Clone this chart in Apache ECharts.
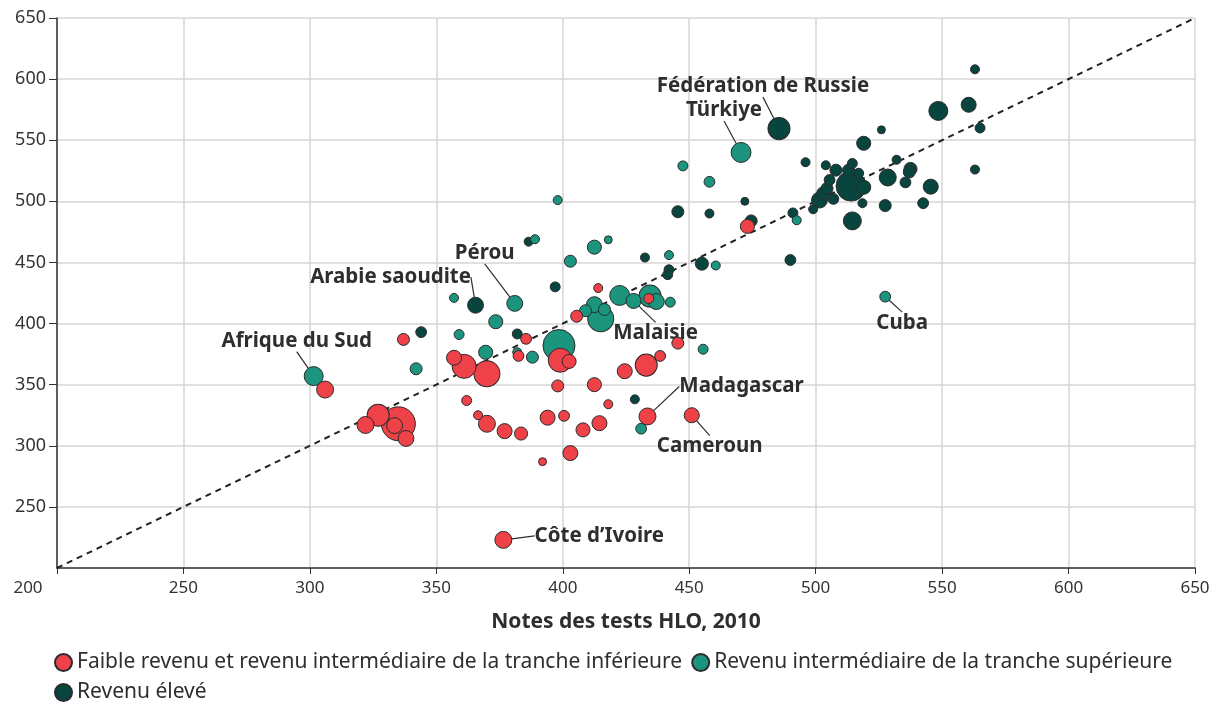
<!DOCTYPE html>
<html lang="fr">
<head>
  <meta charset="UTF-8">
  <title>Notes des tests HLO</title>
  <script src="https://cdn.jsdelivr.net/npm/echarts@6/dist/echarts.min.js"></script>
  <style>body{margin:0;background:#fff}</style>
</head>
<body>
  <div id="main" style="width:1212px;height:702px"></div>
  <script>
  // [note HLO 2010, note ordonnée, poids de la bulle, pays étiqueté]
  const faible = [
    [306, 346, 32], [337, 387, 16], [322, 317, 32], [327, 325, 54], [335, 318, 128],
    [333.5, 316.5, 28], [338, 306, 28], [357, 372, 25], [361, 365, 64], [362, 337, 11],
    [366.5, 325, 9], [370, 359, 75], [370, 318, 32], [377, 312, 25], [383.5, 310, 19],
    [382.5, 373.5, 13], [385.5, 387.5, 13], [399, 370, 64], [402.5, 369, 22], [398, 349, 16],
    [394, 323, 25], [400.5, 324.5, 13], [403, 294, 25], [392, 287, 7], [405.5, 406, 16],
    [414, 429, 9], [412.5, 350, 22], [414.5, 318.5, 25], [408, 313, 22], [418, 334, 9],
    [424.5, 361, 25], [433, 366, 54], [438.5, 373.5, 13], [434, 420.5, 11], [445.5, 384, 16],
    [433.5, 324, 32, 'Madagascar'], [451, 325, 25, 'Cameroun'], [473, 479.5, 22],
    [376.5, 223, 32, 'Côte d’Ivoire']
  ];
  const superieur = [
    [301.5, 357, 40, 'Afrique du Sud'], [342, 363, 16], [357, 421, 9], [359, 391, 11],
    [381, 416.5, 28, 'Pérou'], [373.5, 401.5, 22], [369.5, 376.5, 22], [382, 376.5, 9],
    [388, 372.5, 16], [389, 469, 9], [398, 501, 9], [403, 451, 16], [412.5, 462.5, 22],
    [418, 468.5, 7], [398.5, 382, 114], [409, 410.5, 16], [412.5, 415.5, 28], [416.5, 411.5, 16],
    [415, 404, 75], [422.5, 423, 44], [428, 418.5, 25, 'Malaisie'], [434.5, 422.5, 54],
    [437, 418, 28], [442.5, 417.5, 11], [442, 456, 9], [431, 314, 13], [455.5, 379, 11],
    [460.5, 447.5, 9], [447.5, 529, 11], [458, 516, 13], [470.5, 540, 44, 'Türkiye'],
    [492.5, 484.5, 9], [527.5, 422, 13, 'Cuba']
  ];
  const eleve = [
    [344, 393, 13], [365.5, 415, 28, 'Arabie saoudite'], [382, 391.5, 11], [386.5, 467, 9],
    [397, 430, 11], [428.5, 338, 9], [432.5, 454, 9], [442, 444, 11], [441.5, 440, 11],
    [455, 449, 19], [445.5, 491.5, 16], [458, 490, 9], [472, 500, 7], [474.5, 484, 16],
    [485.5, 559.5, 54, 'Fédération de Russie'], [490, 452, 13], [491, 490.5, 11], [499, 493.5, 9],
    [496, 532, 9], [504, 529.5, 9], [501.5, 501, 28], [503, 506.5, 19], [504.5, 510.5, 16],
    [505.5, 517.5, 13], [507, 502, 13], [508, 525.5, 16], [513, 525.5, 16], [514.5, 531, 11],
    [517, 523, 11], [519, 511.5, 22], [514, 512.5, 100], [518.5, 498.5, 9], [514.5, 484, 36],
    [519, 547.5, 22], [526, 558.5, 7], [528.5, 519.5, 32], [527.5, 496.5, 16], [532, 534, 9],
    [535.5, 515.5, 13], [537.5, 526.5, 19], [537, 524, 16], [542.5, 498.5, 13], [545.5, 512, 25],
    [548.5, 574, 40], [560.5, 579, 25], [563, 608, 9], [565, 560, 11], [563, 526, 9]
  ];
  const diagonale = [[200, 200], [650, 650]];
  const groupes = [
    'Faible revenu et revenu intermédiaire de la tranche inférieure',
    'Revenu intermédiaire de la tranche supérieure',
    'Revenu élevé'
  ];

  // décalage des étiquettes (px) par rapport au centre de la bulle
  const decalages = {
    'Fédération de Russie': [-16, -42], 'Türkiye': [-17, -42], 'Pérou': [-30, -50],
    'Arabie saoudite': [-85, -28], 'Afrique du Sud': [-17, -35], 'Malaisie': [22, 32],
    'Cuba': [17, 26], 'Madagascar': [94, -30], 'Cameroun': [18, 31], 'Côte d’Ivoire': [96, -4]
  };
  const police = '"Noto Sans", sans-serif';
  const encre = '#2e2e2e';

  function points(rows) {
    return rows.slice().sort((a, b) => b[2] - a[2]).map(r => {
      const it = { value: [r[0], r[1], r[2]] };
      if (r[3]) {
        it.name = r[3];
        it.label = { show: true, position: 'inside', formatter: r[3] };
      }
      return it;
    });
  }

  function bulles(nom, rows, couleur, z) {
    return {
      name: nom, type: 'scatter', z: z,
      data: points(rows),
      symbolSize: v => 3 * Math.sqrt(v[2]),
      itemStyle: { color: couleur, borderColor: '#2b2b2b', borderWidth: 1, opacity: 1 },
      label: { show: false, fontFamily: police, fontSize: 20.5, fontWeight: 'bold', color: encre },
      labelLine: { show: true, lineStyle: { color: encre, width: 1.2 } },
      labelLayout: p => {
        const d = decalages[p.text];
        return d ? { dx: d[0], dy: d[1] } : {};
      },
      emphasis: { disabled: true }
    };
  }

  const chart = echarts.init(document.getElementById('main'));
  chart.setOption({
    animation: false,
    textStyle: { fontFamily: police },
    grid: { left: 57, right: 17, top: 18, bottom: 134, outerBoundsMode: 'none' },
    legend: {
      data: groupes, left: 49, top: 647, width: 1160, itemGap: 9,
      icon: 'circle', itemWidth: 17, itemHeight: 17,
      textStyle: { fontFamily: police, fontSize: 21, color: encre }
    },
    xAxis: {
      type: 'value', min: 200, max: 650, interval: 50,
      name: 'Notes des tests HLO, 2010', nameLocation: 'middle', nameGap: 44,
      nameTextStyle: { fontFamily: police, fontSize: 21, fontWeight: 'bold', color: encre },
      axisLine: { show: true, lineStyle: { color: '#333', width: 1.5 } },
      axisTick: { show: true, length: 6, lineStyle: { color: '#333' } },
      axisLabel: {
        fontFamily: police, fontSize: 17, color: '#333', margin: 12,
        formatter: v => v === 200 ? '{m|200}' : String(v),
        rich: { m: { fontFamily: police, fontSize: 17, color: '#333', padding: [0, 58, 0, 0] } }
      },
      splitLine: { show: true, lineStyle: { color: '#d6d6d6', width: 1.5 } }
    },
    yAxis: {
      type: 'value', min: 200, max: 650, interval: 50,
      axisLine: { show: true, lineStyle: { color: '#333', width: 1.5 } },
      axisTick: { show: true, length: 8, lineStyle: { color: '#333' } },
      axisLabel: { fontFamily: police, fontSize: 18, color: '#333', margin: 11, showMinLabel: false },
      splitLine: { show: true, lineStyle: { color: '#d6d6d6', width: 1.5 } }
    },
    series: [
      {
        type: 'line', data: diagonale, showSymbol: false, silent: true, z: 1,
        lineStyle: { color: '#222', width: 2, type: [6, 5] }
      },
      bulles(groupes[2], eleve, '#08453f', 2),
      bulles(groupes[1], superieur, '#1b957d', 3),
      bulles(groupes[0], faible, '#ee4148', 4)
    ]
  });
  </script>
</body>
</html>
